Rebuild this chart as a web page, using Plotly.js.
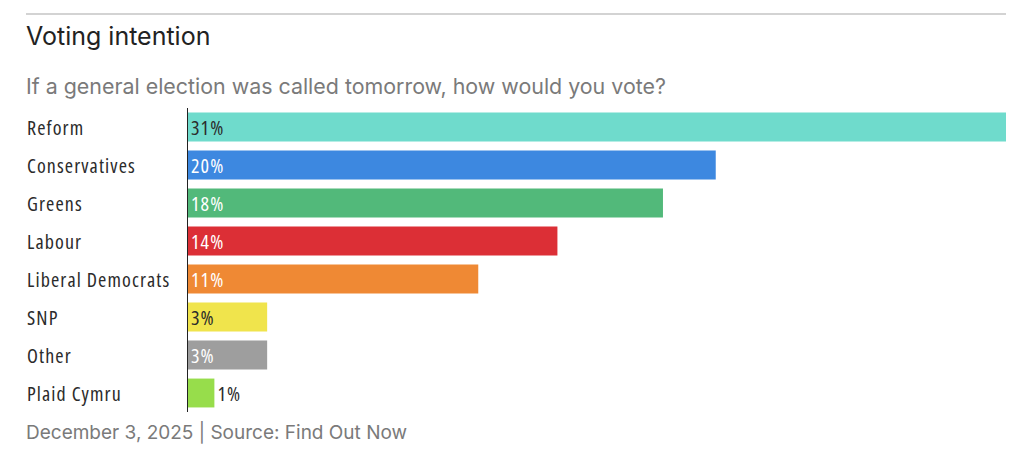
<!DOCTYPE html>
<html>
<head>
<meta charset="utf-8">
<script src="https://cdn.plot.ly/plotly-3.0.1.min.js"></script>
<style>
html,body{margin:0;padding:0;background:#fff;}
#chart{width:1024px;height:459px;}
text[style*="CondX"]{font-stretch:75% !important; letter-spacing:1.1px;}
</style>
</head>
<body>
<div id="chart"></div>
<script>
const parties = ["Reform", "Conservatives", "Greens", "Labour", "Liberal Democrats", "SNP", "Other", "Plaid Cymru"];
const shares = [31, 20, 18, 14, 11, 3, 3, 1];
const barColors = ["#6fdbcc", "#3d88e0", "#52b97a", "#dc2f36", "#ef8934", "#f0e44c", "#9e9e9e", "#97dd4b"];
const textColors = ["#2b2b2b", "#ffffff", "#ffffff", "#ffffff", "#ffffff", "#2b2b2b", "#ffffff", "#2b2b2b"];
const textPositions = ["inside", "inside", "inside", "inside", "inside", "inside", "inside", "outside"];
const titleText = "Voting intention";
const subtitleText = "If a general election was called tomorrow, how would you vote?";
const footerText = "December 3, 2025 | Source: Find Out Now";

const condensed = "'Open Sans', CondX, 'DejaVu Sans Condensed', sans-serif";
const sans = "Inter, 'Open Sans', sans-serif";

const W = 1024, H = 459;
const L = 188, R = 1006, T = 108, B = 412;
const px2x = p => (p - L) / (R - L);
const py2y = p => (B - p) / (B - T);

const trace = {
  type: "bar",
  orientation: "h",
  y: parties,
  x: shares,
  text: shares.map(v => v + "%"),
  textposition: textPositions,
  insidetextanchor: "start",
  textangle: 0,
  constraintext: "none",
  cliponaxis: false,
  textfont: {family: condensed, size: 20, weight: 500, color: textColors},
  marker: {color: barColors, line: {width: 0}},
  hoverinfo: "skip"
};

const annotations = parties.map(p => ({
  xref: "paper", yref: "y", x: px2x(25), y: p,
  xanchor: "left", yanchor: "middle", showarrow: false,
  text: p, font: {family: condensed, size: 20, weight: 500, color: "#2b2b2b"}
}));
annotations.push({
  xref: "paper", yref: "paper", x: px2x(24), y: py2y(86),
  xanchor: "left", yanchor: "middle", showarrow: false,
  text: subtitleText, font: {family: sans, size: 21.4, color: "#7a7a7a"}
});
annotations.push({
  xref: "paper", yref: "paper", x: px2x(24), y: py2y(432),
  xanchor: "left", yanchor: "middle", showarrow: false,
  text: footerText, font: {family: sans, size: 19, color: "#7a7a7a"}
});

const layout = {
  width: W, height: H,
  margin: {l: L, r: W - R, t: T, b: H - B, pad: 0},
  paper_bgcolor: "#ffffff", plot_bgcolor: "#ffffff",
  showlegend: false,
  bargap: 0.24,
  title: {
    text: titleText, xref: "container", yref: "container",
    x: 26 / W, xanchor: "left", y: 1 - 36 / H, yanchor: "middle",
    font: {family: sans, size: 25, color: "#222222"}
  },
  xaxis: {range: [0, 31], showgrid: false, zeroline: false, showticklabels: false, showline: false, fixedrange: true},
  yaxis: {type: "category", autorange: "reversed", showgrid: false, zeroline: false, showticklabels: false,
          showline: true, linecolor: "#222222", linewidth: 1.5, fixedrange: true},
  shapes: [{
    type: "line", xref: "paper", yref: "paper",
    x0: px2x(26), x1: 1, y0: py2y(14), y1: py2y(14),
    line: {color: "#c4c4c4", width: 1.5}
  }],
  annotations: annotations
};

Plotly.newPlot("chart", [trace], layout, {displayModeBar: false, staticPlot: true});
</script>
</body>
</html>
